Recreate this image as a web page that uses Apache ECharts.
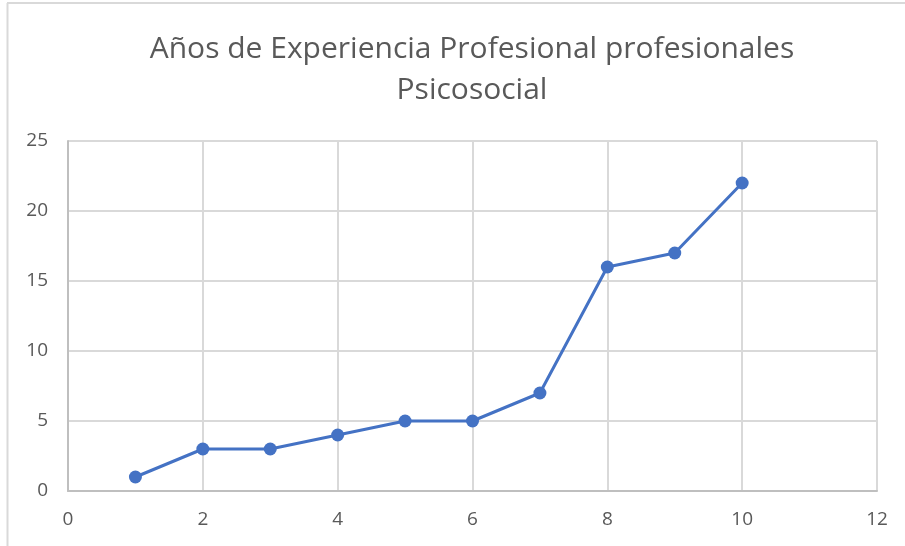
<!DOCTYPE html>
<html>
<head>
<meta charset="utf-8">
<script src="https://cdn.jsdelivr.net/npm/echarts@6/dist/echarts.min.js"></script>
<style>
html,body{margin:0;padding:0;background:#fff;}
#c{width:905px;height:546px;}
</style>
</head>
<body>
<div id="c"></div>
<script>
const titleText = 'Años de Experiencia Profesional profesionales\nPsicosocial';
const xValues = [1, 2, 3, 4, 5, 6, 7, 8, 9, 10];
const yValues = [1, 3, 3, 4, 5, 5, 7, 16, 17, 22];

const chart = echarts.init(document.getElementById('c'));
chart.setOption({
  animation: false,
  backgroundColor: '#fff',
  title: {
    text: titleText,
    left: 467,
    textAlign: 'center',
    top: 24,
    textStyle: {
      fontFamily: 'Open Sans',
      fontSize: 30,
      fontWeight: 'normal',
      color: '#595959',
      lineHeight: 41
    }
  },
  graphic: [
    { type: 'line', shape: { x1: 7, y1: 3, x2: 905, y2: 3 }, style: { stroke: '#d9d9d9', lineWidth: 2 } },
    { type: 'line', shape: { x1: 7.5, y1: 3, x2: 7.5, y2: 546 }, style: { stroke: '#d9d9d9', lineWidth: 2 } }
  ],
  grid: { left: 68, right: 28, top: 141, bottom: 55, containLabel: false },
  xAxis: {
    type: 'value', min: 0, max: 12, interval: 2,
    axisLine: { show: true, lineStyle: { color: '#bfbfbf', width: 2 } },
    axisTick: { show: false },
    axisLabel: { color: '#595959', fontSize: 19, fontFamily: 'Open Sans', margin: 19 },
    splitLine: { show: true, lineStyle: { color: '#d9d9d9', width: 2 } }
  },
  yAxis: {
    type: 'value', min: 0, max: 25, interval: 5,
    axisLine: { show: true, lineStyle: { color: '#bfbfbf', width: 2 } },
    axisTick: { show: false },
    axisLabel: { color: '#595959', fontSize: 19, fontFamily: 'Open Sans', margin: 20 },
    splitLine: { show: true, lineStyle: { color: '#d9d9d9', width: 2 } }
  },
  series: [{
    type: 'line',
    data: xValues.map((x, i) => [x, yValues[i]]),
    symbol: 'circle',
    symbolSize: 13,
    lineStyle: { color: '#4472C4', width: 3 },
    itemStyle: { color: '#4472C4' }
  }]
});
</script>
</body>
</html>
